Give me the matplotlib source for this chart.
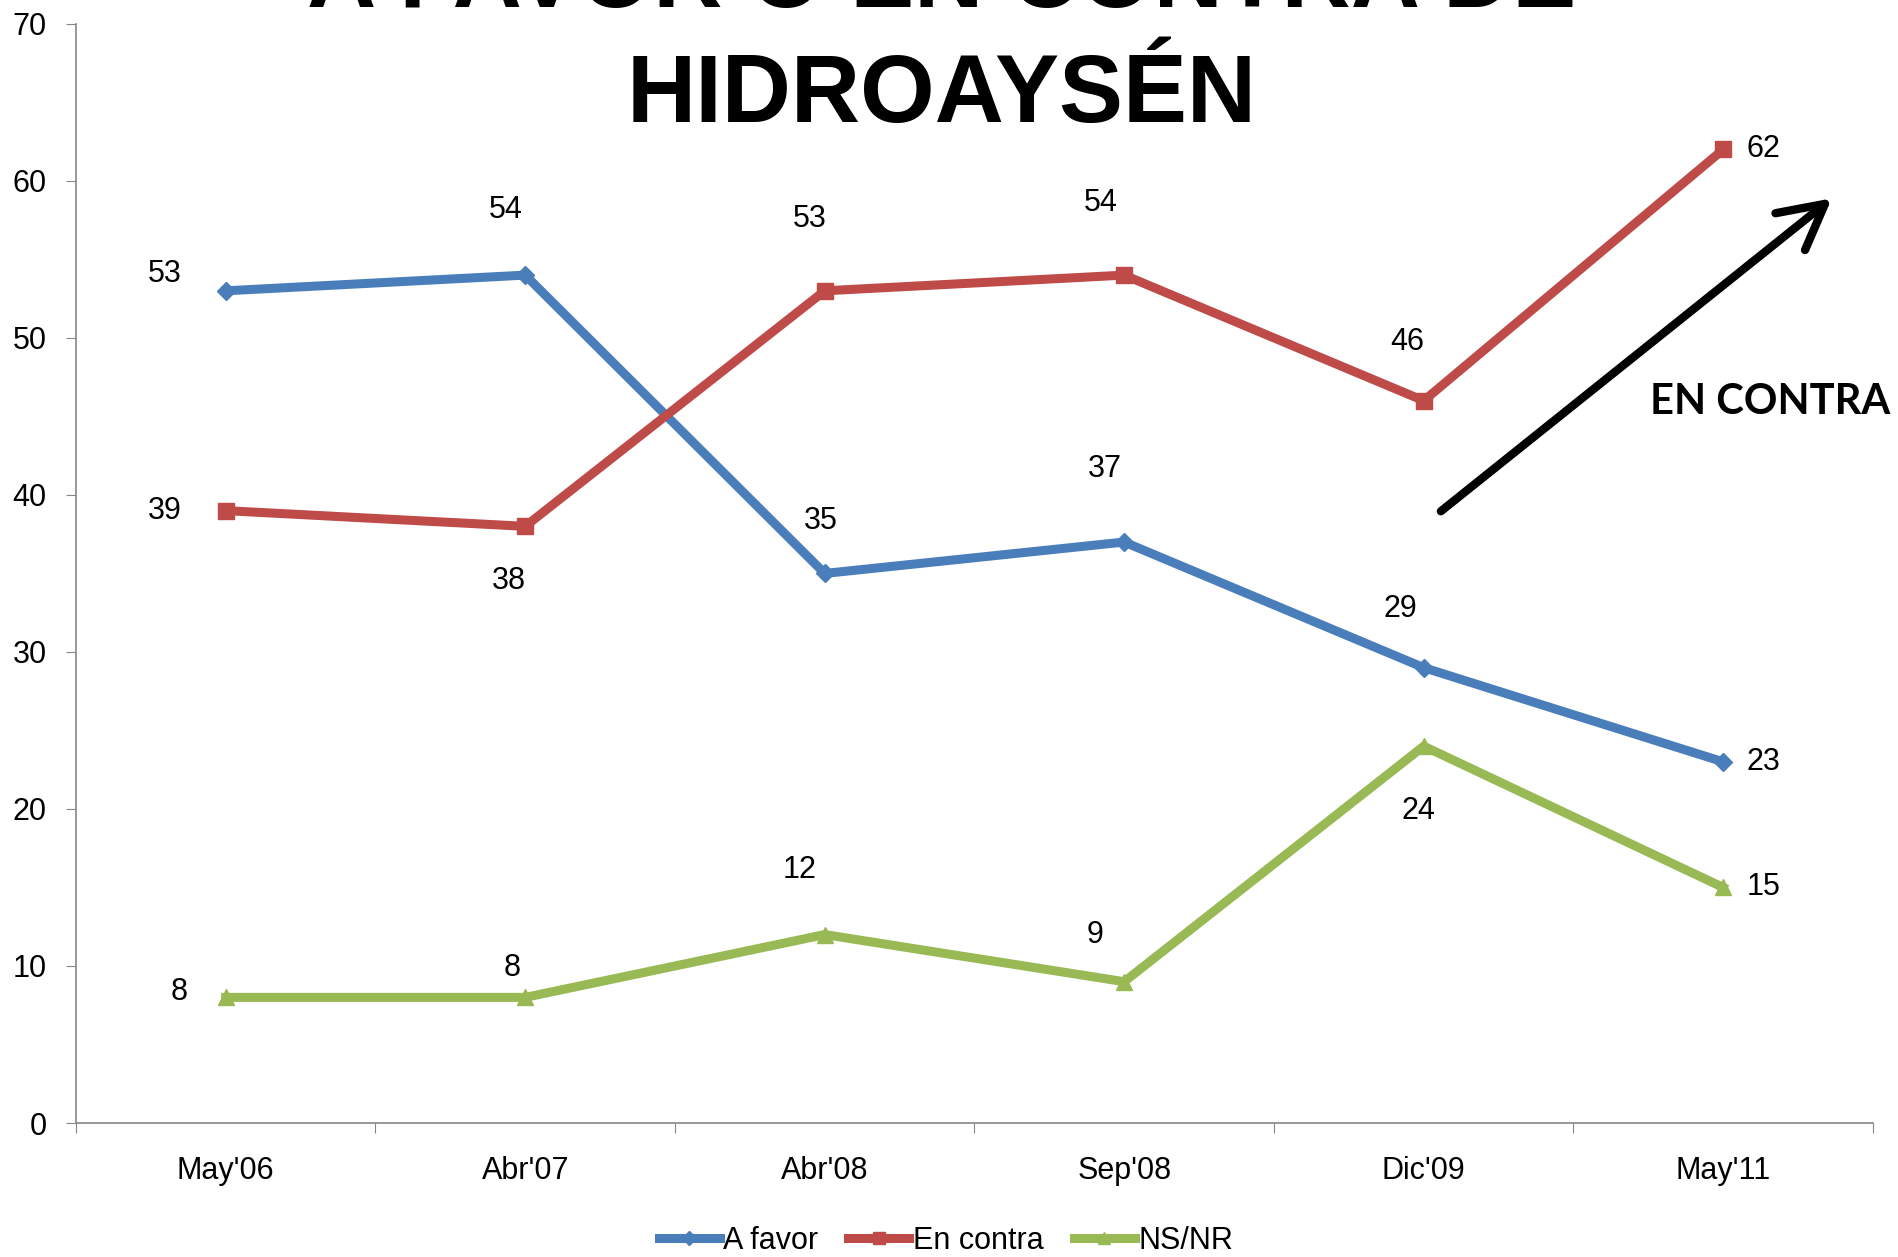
import matplotlib.pyplot as plt

plt.rcParams['font.family'] = ['Liberation Sans', 'DejaVu Sans']

# data
fechas = ["May'06", "Abr'07", "Abr'08", "Sep'08", "Dic'09", "May'11"]
a_favor = [53, 54, 35, 37, 29, 23]
en_contra = [39, 38, 53, 54, 46, 62]
ns_nr = [8, 8, 12, 9, 24, 15]

# label offsets (pixels) for each point
off_favor = [(-61, 17), (-19, 65), (-4, 52), (-19, 73), (-23, 59), (40, 0)]
off_contra = [(-61, 0), (-16, -55), (-15, 72), (-23, 72), (-16, 59), (40, 0)]
off_nsnr = [(-47, 5), (-13, 29), (-25, 65), (-29, 47), (-5, -65), (40, 0)]

series = [
    ("A favor", a_favor, "#4A7EBB", "D", 9, off_favor),
    ("En contra", en_contra, "#BE4B48", "s", 11, off_contra),
    ("NS/NR", ns_nr, "#98B954", "^", 11, off_nsnr),
]

fig = plt.figure(figsize=(18.99, 12.57), dpi=100)
ax = fig.add_axes([0.040, 0.1066, 0.9463, 0.8744])

x = list(range(len(fechas)))
for name, vals, col, mk, ms, offs in series:
    ax.plot(x, vals, color=col, lw=6.5, marker=mk, markersize=ms, label=name,
            solid_joinstyle="miter")
    for xi, v, o in zip(x, vals, offs):
        ax.annotate(str(v), (xi, v), xytext=o, textcoords="offset pixels",
                    ha="center", va="center", fontsize=22)

ax.set_xlim(-0.5, len(fechas) - 0.5)
ax.set_ylim(0, 70)
ax.set_yticks(range(0, 71, 10))
ax.set_xticks([i - 0.5 for i in range(len(fechas) + 1)])
ax.set_xticklabels([])
ax.set_xticks(x, minor=True)
ax.set_xticklabels(fechas, minor=True)
ax.tick_params(axis="x", which="major", length=7, color="#868686", direction="out")
ax.tick_params(axis="x", which="minor", length=0, pad=24, labelsize=22)
ax.tick_params(axis="y", length=7, color="#868686", pad=14, labelsize=22)

for s in ["top", "right"]:
    ax.spines[s].set_visible(False)
for s in ["left", "bottom"]:
    ax.spines[s].set_color("#868686")
    ax.spines[s].set_linewidth(1.2)

# arrow and note
ax.annotate("", xy=(5.37, 59.0), xytext=(4.05, 38.85),
            arrowprops=dict(arrowstyle="->,head_length=32,head_width=17",
                            mutation_scale=1, lw=6, color="black",
                            capstyle="round"),
            annotation_clip=False)
fig.text(0.9955, 0.68, "EN CONTRA", family="Lato", fontweight="bold",
         fontsize=30, ha="right", va="center")

# title, partly above the figure
fig.text(0.496, 0.9945, "A FAVOR O EN CONTRA DE", fontsize=69,
         fontweight="bold", ha="center", va="baseline")
fig.text(0.496, 0.903, "HIDROAYSÉN", fontsize=69, fontweight="bold",
         ha="center", va="baseline")

fig.legend(loc="center", bbox_to_anchor=(0.498, 0.0127), ncol=3, frameon=False,
           fontsize=22, handlelength=2.0, handletextpad=0.1, columnspacing=1.0,
           markerscale=0.8)

fig.savefig("out.png", dpi=100)
